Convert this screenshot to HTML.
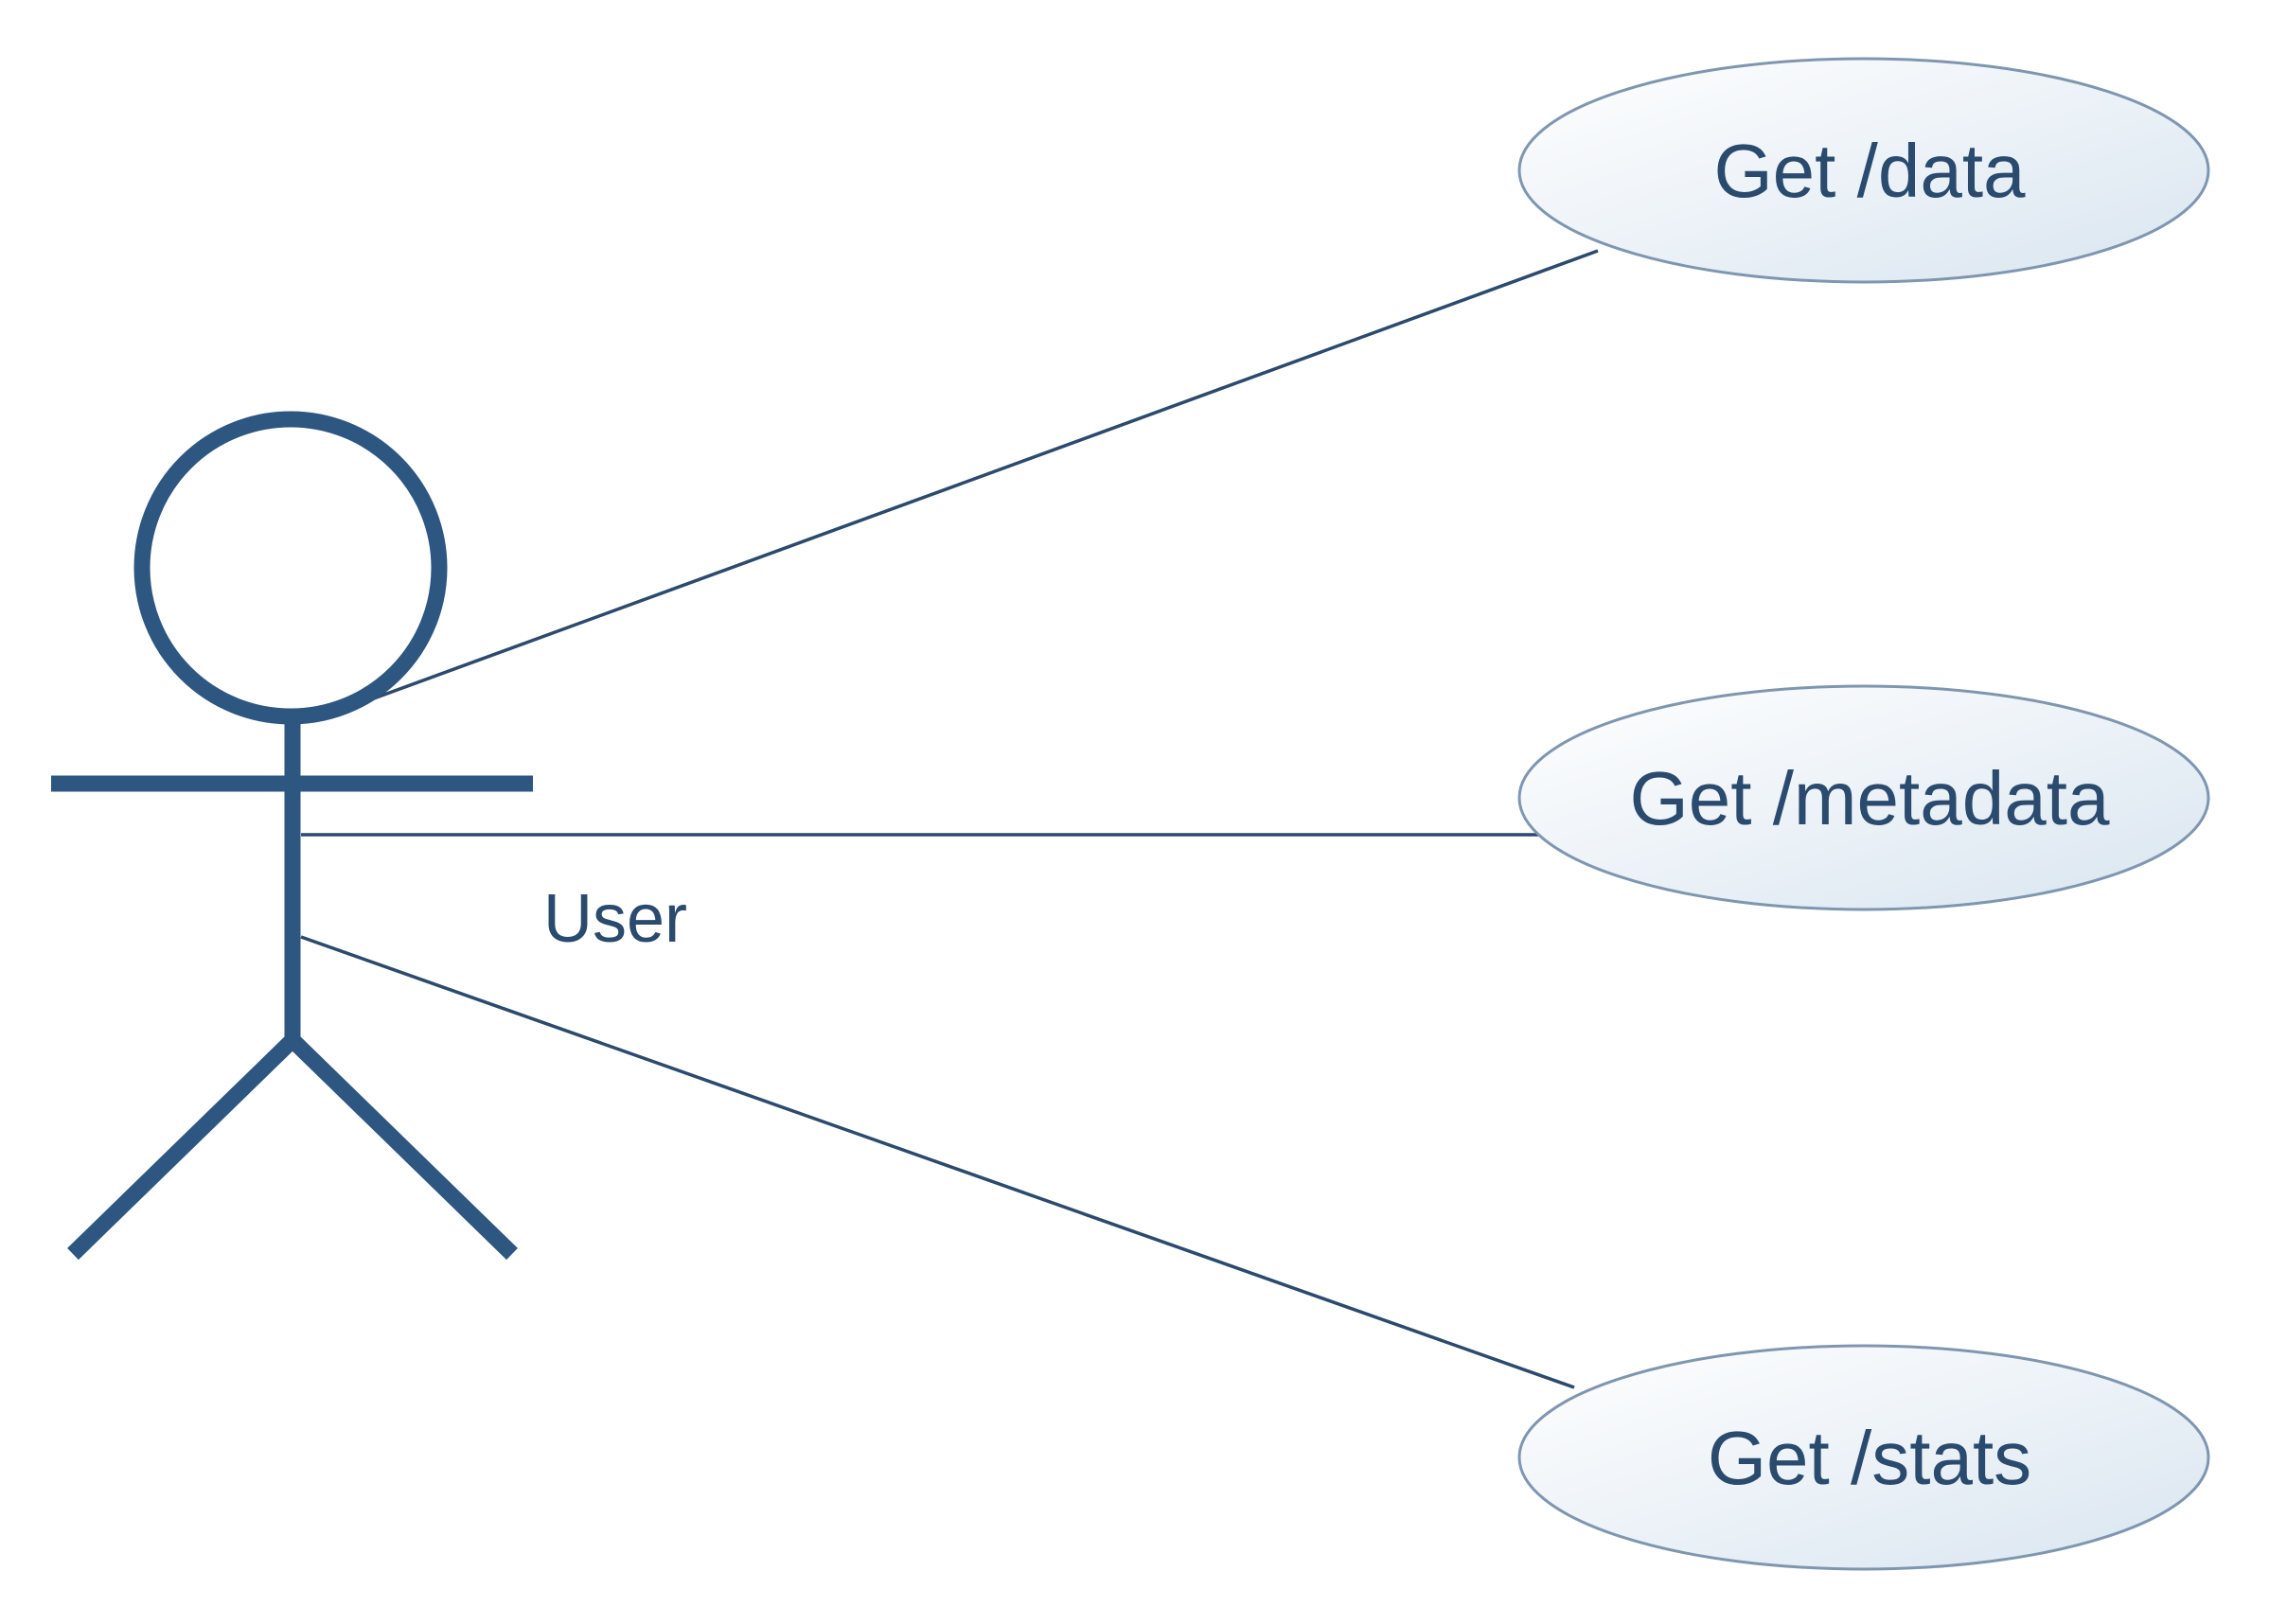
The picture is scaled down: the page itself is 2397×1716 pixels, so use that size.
<!DOCTYPE html>
<html><head><meta charset="utf-8"><style>html,body{margin:0;padding:0;background:#fff}svg{display:block}</style></head>
<body>
<svg width="2397" height="1716" viewBox="0 0 2397 1716" xmlns="http://www.w3.org/2000/svg">
<defs>
<linearGradient id="g" x1="0" y1="0" x2="1" y2="1">
<stop offset="0" stop-color="#ffffff"/><stop offset="1" stop-color="#d9e5f0"/>
</linearGradient>
</defs>
<g stroke="#2b4a6e" stroke-width="3.5" fill="none">
<line x1="384" y1="742" x2="1688" y2="265"/>
<line x1="318" y1="882" x2="1625" y2="882"/>
<line x1="318" y1="990" x2="1663" y2="1466"/>
</g>
<g stroke="#2d5680" stroke-width="17" fill="none">
<ellipse cx="307" cy="600" rx="157" ry="157"/>
<line x1="309" y1="758" x2="309" y2="1099"/>
<line x1="54" y1="828" x2="563" y2="828"/>
<polyline points="77,1325 309,1099 541,1325"/>
</g>
<g fill="url(#g)" stroke="#7f96b0" stroke-width="3">
<ellipse cx="1969" cy="180" rx="364" ry="118"/>
<ellipse cx="1969" cy="843" rx="364" ry="118"/>
<ellipse cx="1969" cy="1540" rx="364" ry="118"/>
</g>
<g font-family="Liberation Sans, sans-serif" fill="#2a4a6e" text-anchor="middle" font-size="80">
<text x="1975" y="208">Get /data</text>
<text x="1975" y="871">Get /metadata</text>
<text x="1975" y="1568">Get /stats</text>
<text x="650" y="995" font-size="72">User</text>
</g>
</svg>
</body></html>
